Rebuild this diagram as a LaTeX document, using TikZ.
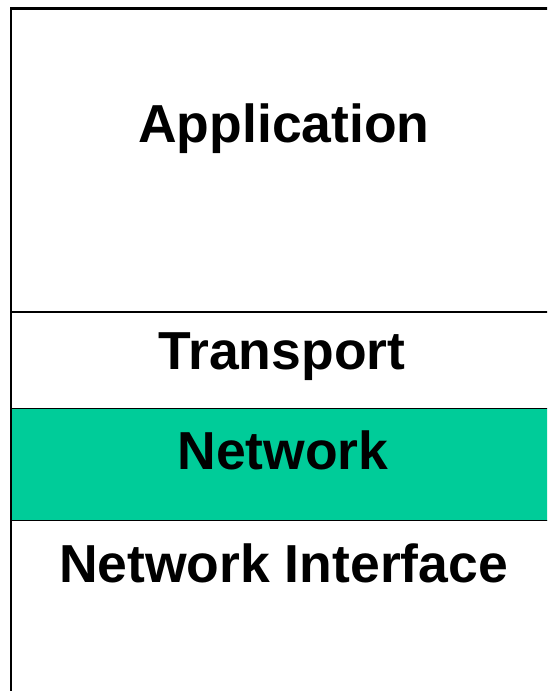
\documentclass[tikz,border=0pt]{standalone}
\usepackage{fontspec}
\setmainfont{Liberation Sans}
\definecolor{netgreen}{HTML}{00CC99}
\begin{document}
\begin{tikzpicture}[x=1pt,y=-1pt,
  layer/.style={font=\bfseries\fontsize{53.5}{60}\selectfont, anchor=base, inner sep=0pt},
  divider/.style={line width=1.5pt, black},
  frame/.style={line width=2.6pt, black}]
  \useasboundingbox (0,0) rectangle (547,691);
  \begin{scope}
    \clip (0,0) rectangle (547,691);
    % highlighted network layer
    \fill[netgreen] (11,408.5) rectangle (560,520.5);
    % layer separators
    \draw[divider] (11,312) -- (560,312);
    \draw[divider] (11,408.5) -- (560,408.5);
    \draw[divider] (11,520.5) -- (560,520.5);
    % outer frame (top and left edges)
    \draw[frame] (560,8.3) -- (10.8,8.3) -- (10.8,700);
  \end{scope}
  \node[layer] (app) at (284,142) {Application};
  \node[layer] (tra) at (282,369) {Transport};
  \node[layer] (net) at (283,469) {Network};
  \node[layer] (nif) at (283.5,582) {Network Interface};
\end{tikzpicture}
\end{document}
